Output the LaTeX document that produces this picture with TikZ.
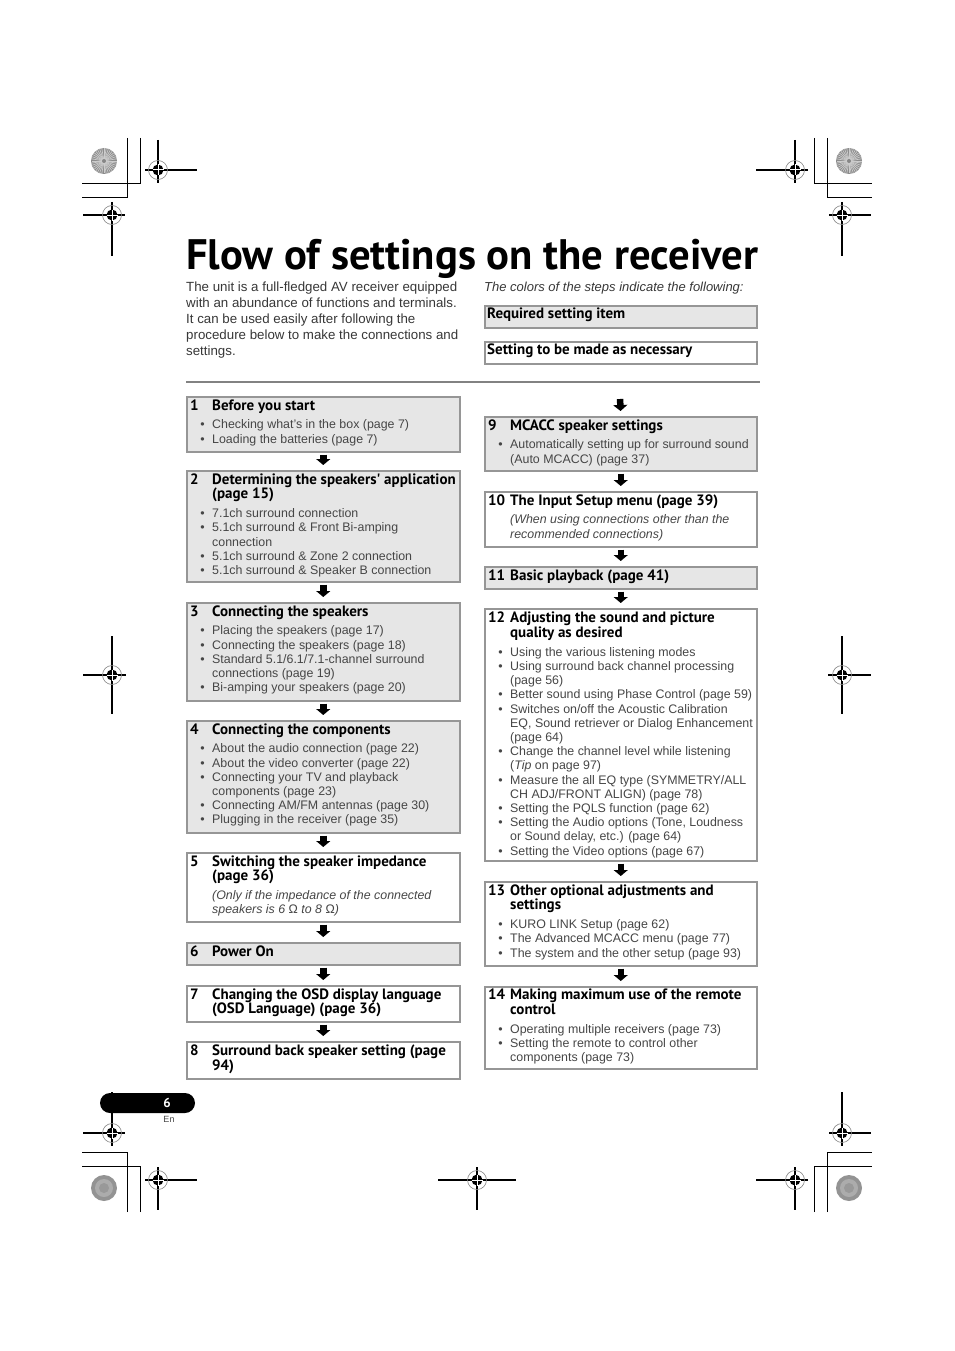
\documentclass[tikz,border=0pt]{standalone}
\usepackage{graphicx}
\usepackage{fontspec}
\setmainfont{Liberation Sans}
\newfontfamily\hdf{PT Sans}
\usetikzlibrary{arrows.meta}
\definecolor{bodygray}{RGB}{70,70,70}
\definecolor{introgray}{RGB}{55,55,55}
\definecolor{fillgray}{RGB}{230,230,230}
\definecolor{edgegray}{RGB}{150,150,150}
\definecolor{rulegray}{RGB}{130,130,130}
\newcommand{\hd}[1]{{\color{black}\hdf\bfseries\fontsize{15}{14.2}\selectfont #1}}
\newcommand{\nm}[1]{\makebox[22pt][l]{\hd{#1}}}
\newcommand{\bi}{\llap{\textbullet\hspace{7.5pt}}}
\newcommand{\bodysz}{\fontsize{12.4}{14.2}\selectfont}
\newcommand{\tb}[1]{\begin{tabular}[t]{@{}l@{}l@{}}#1\end{tabular}}
\newcommand{\regmark}[6]{%
  \draw[line width=1.2pt] (#1-#3,#2) -- (#1+#4,#2);
  \draw[line width=1.2pt] (#1,#2-#5) -- (#1,#2+#6);
  \draw[gray, line width=0.6pt] (#1,#2) circle (9.5pt);
  \fill (#1,#2) circle (5.5pt);
  \draw[white, line width=1pt] (#1-5.5,#2) -- (#1+5.5,#2) (#1,#2-5.5) -- (#1,#2+5.5);
}
\newcommand{\starb}[2]{%
  \fill[gray!90] (#1,#2) circle (13pt);
  \foreach \a in {0,10,...,350} \draw[gray!40, line width=0.7pt] (#1,#2) -- ++(\a:12.5pt);
  \fill[gray!95] (#1,#2) circle (2pt);
}
\newcommand{\noiseb}[2]{%
  \fill[gray!85] (#1,#2) circle (13pt);
  \fill[gray!65] (#1,#2) circle (9pt);
  \fill[gray!80] (#1,#2) circle (5pt);
}
\begin{document}
\begin{tikzpicture}[x=1pt,y=-1pt,
  req/.style={draw=edgegray, line width=1.5pt, fill=fillgray, anchor=north west, inner sep=0pt, minimum width=273pt},
  opt/.style={req, fill=white},
  tx/.style={anchor=base west, inner sep=0pt, text=bodygray, font=\bodysz},
  arr/.style={line width=6.5pt, -{Triangle[width=14pt,length=6pt]}, shorten <=2pt, shorten >=5pt}]
\useasboundingbox (0,0) rectangle (954,1351);

% crop lines
\begin{scope}[line width=1pt]
\draw (140,138) -- (140,184) -- (82,184);
\draw (127,138) -- (127,198) -- (82,198);
\draw (814,138) -- (814,184) -- (872,184);
\draw (827,138) -- (827,198) -- (872,198);
\draw (140,1212) -- (140,1166) -- (82,1166);
\draw (127,1212) -- (127,1152) -- (82,1152);
\draw (814,1212) -- (814,1166) -- (872,1166);
\draw (827,1212) -- (827,1152) -- (872,1152);
\end{scope}
\starb{104}{161}
\starb{849}{161}
\noiseb{104}{1188}
\noiseb{849}{1188}
\regmark{158}{170}{13}{39}{30}{13}
\regmark{112}{215}{29}{13}{13}{41}
\regmark{795}{170}{39}{13}{30}{13}
\regmark{842}{215}{13}{29}{13}{41}
\regmark{112}{675}{29}{14}{39}{39}
\regmark{842}{675}{14}{29}{39}{39}
\regmark{112}{1133}{29}{13}{41}{13}
\regmark{842}{1133}{13}{29}{41}{13}
\regmark{158}{1180}{13}{39}{13}{30}
\regmark{795}{1180}{39}{13}{13}{30}
\regmark{477}{1180}{39}{39}{13}{30}

% title and intro
\node[anchor=base west, inner sep=0pt] (title) at (186,269.5)
  {\resizebox{572pt}{!}{\hdf\bfseries Flow of settings on the receiver}};
\node[tx, text=introgray, font=\fontsize{13.3}{16}\selectfont] (intro) at (186,291)
  {\begin{tabular}[t]{@{}l@{}}The unit is a full-fledged AV receiver equipped\\
  with an abundance of functions and terminals.\\
  It can be used easily after following the\\
  procedure below to make the connections and\\
  settings.\end{tabular}};
\node[tx, text=introgray, font=\fontsize{13}{16}\selectfont\itshape] (legh) at (484,291)
  {The colors of the steps indicate the following:};
\node[req, minimum width=272pt, minimum height=22pt] (leg1) at (484,305) {};
\node[tx] (legt1) at (487,318.5) {\hd{Required setting item}};
\node[opt, minimum width=272pt, minimum height=22pt] (leg2) at (484,341) {};
\node[tx] (legt2) at (487,354.5) {\hd{Setting to be made as necessary}};
\draw[rulegray, line width=2pt] (186,382) -- (760,382);

% left column boxes
\node[req, minimum height=55pt] (b1) at (186,396) {};
\node[req, minimum height=111pt] (b2) at (186,470) {};
\node[req, minimum height=98pt] (b3) at (186,602) {};
\node[req, minimum height=112pt] (b4) at (186,720) {};
\node[opt, minimum height=69pt] (b5) at (186,852) {};
\node[req, minimum height=22pt] (b6) at (186,942) {};
\node[opt, minimum height=36pt] (b7) at (186,985) {};
\node[opt, minimum height=37pt] (b8) at (186,1041) {};

% right column boxes
\coordinate (top9) at (620,397);
\node[req, minimum width=272pt, minimum height=54pt] (b9) at (484,416) {};
\node[opt, minimum width=272pt, minimum height=55pt] (b10) at (484,491) {};
\node[req, minimum width=272pt, minimum height=22pt] (b11) at (484,566) {};
\node[opt, minimum width=272pt, minimum height=252pt] (b12) at (484,608) {};
\node[opt, minimum width=272pt, minimum height=84pt] (b13) at (484,881) {};
\node[opt, minimum width=272pt, minimum height=82pt] (b14) at (484,986) {};

% arrows
\draw[arr] (b1.south) -- (b2.north);
\draw[arr] (b2.south) -- (b3.north);
\draw[arr] (b3.south) -- (b4.north);
\draw[arr] (b4.south) -- (b5.north);
\draw[arr] (b5.south) -- (b6.north);
\draw[arr] (b6.south) -- (b7.north);
\draw[arr] (b7.south) -- (b8.north);
\draw[arr] (top9) -- (b9.north);
\draw[arr] (b9.south) -- (b10.north);
\draw[arr] (b10.south) -- (b11.north);
\draw[arr] (b11.south) -- (b12.north);
\draw[arr] (b12.south) -- (b13.north);
\draw[arr] (b13.south) -- (b14.north);

% texts left
\node[tx] (t1) at (190,410) {\tb{\nm{1} & \hd{Before you start}\\[4.6pt]
  & \bi Checking what's in the box (page 7)\\
  & \bi Loading the batteries (page 7)}};
\node[tx] (t2) at (190,484) {\tb{\nm{2} & \hd{Determining the speakers' application}\\
  & \hd{(page 15)}\\[4.6pt]
  & \bi 7.1ch surround connection\\
  & \bi 5.1ch surround \& Front Bi-amping\\
  & connection\\
  & \bi 5.1ch surround \& Zone 2 connection\\
  & \bi 5.1ch surround \& Speaker B connection}};
\node[tx] (t3) at (190,616) {\tb{\nm{3} & \hd{Connecting the speakers}\\[4.6pt]
  & \bi Placing the speakers (page 17)\\
  & \bi Connecting the speakers (page 18)\\
  & \bi Standard 5.1/6.1/7.1-channel surround\\
  & connections (page 19)\\
  & \bi Bi-amping your speakers (page 20)}};
\node[tx] (t4) at (190,734) {\tb{\nm{4} & \hd{Connecting the components}\\[4.6pt]
  & \bi About the audio connection (page 22)\\
  & \bi About the video converter (page 22)\\
  & \bi Connecting your TV and playback\\
  & components (page 23)\\
  & \bi Connecting AM/FM antennas (page 30)\\
  & \bi Plugging in the receiver (page 35)}};
\node[tx] (t5) at (190,866) {\tb{\nm{5} & \hd{Switching the speaker impedance}\\
  & \hd{(page 36)}\\[4.6pt]
  & \itshape (Only if the impedance of the connected\\
  & \itshape speakers is 6 \textup{Ω} to 8 \textup{Ω})}};
\node[tx] (t6) at (190,956) {\tb{\nm{6} & \hd{Power On}}};
\node[tx] (t7) at (190,999) {\tb{\nm{7} & \hd{Changing the OSD display language}\\
  & \hd{(OSD Language) (page 36)}}};
\node[tx] (t8) at (190,1055.5) {\tb{\nm{8} & \hd{Surround back speaker setting (page}\\
  & \hd{94)}}};

% texts right
\node[tx] (t9) at (488,430) {\tb{\nm{9} & \hd{MCACC speaker settings}\\[4.6pt]
  & \bi Automatically setting up for surround sound\\
  & (Auto MCACC) (page 37)}};
\node[tx] (t10) at (488,505) {\tb{\nm{10} & \hd{The Input Setup menu (page 39)}\\[4.6pt]
  & \itshape (When using connections other than the\\
  & \itshape recommended connections)}};
\node[tx] (t11) at (488,580) {\tb{\nm{11} & \hd{Basic playback (page 41)}}};
\node[tx] (t12) at (488,622.5) {\tb{\nm{12} & \hd{Adjusting the sound and picture}\\
  & \hd{quality as desired}\\[4.6pt]
  & \bi Using the various listening modes\\
  & \bi Using surround back channel processing\\
  & (page 56)\\
  & \bi Better sound using Phase Control (page 59)\\
  & \bi Switches on/off the Acoustic Calibration\\
  & EQ, Sound retriever or Dialog Enhancement\\
  & (page 64)\\
  & \bi Change the channel level while listening\\
  & (\textit{Tip} on page 97)\\
  & \bi Measure the all EQ type (SYMMETRY/ALL\\
  & CH ADJ/FRONT ALIGN) (page 78)\\
  & \bi Setting the PQLS function (page 62)\\
  & \bi Setting the Audio options (Tone, Loudness\\
  & or Sound delay, etc.) (page 64)\\
  & \bi Setting the Video options (page 67)}};
\node[tx] (t13) at (488,895) {\tb{\nm{13} & \hd{Other optional adjustments and}\\
  & \hd{settings}\\[4.6pt]
  & \bi KURO LINK Setup (page 62)\\
  & \bi The Advanced MCACC menu (page 77)\\
  & \bi The system and the other setup (page 93)}};
\node[tx] (t14) at (488,999.5) {\tb{\nm{14} & \hd{Making maximum use of the remote}\\
  & \hd{control}\\[4.6pt]
  & \bi Operating multiple receivers (page 73)\\
  & \bi Setting the remote to control other\\
  & components (page 73)}};

% page number
\node[fill=black, rounded corners=10pt, minimum width=95pt, minimum height=20pt, inner sep=0pt] (pill) at (147.5,1103) {};
\node[inner sep=0pt, text=white, font=\hdf\bfseries\fontsize{13}{14}\selectfont] (pnum) at (167,1103) {6};
\node[inner sep=0pt, text=bodygray, font=\fontsize{9}{10}\selectfont] (en) at (169,1119) {En};
\end{tikzpicture}
\end{document}
